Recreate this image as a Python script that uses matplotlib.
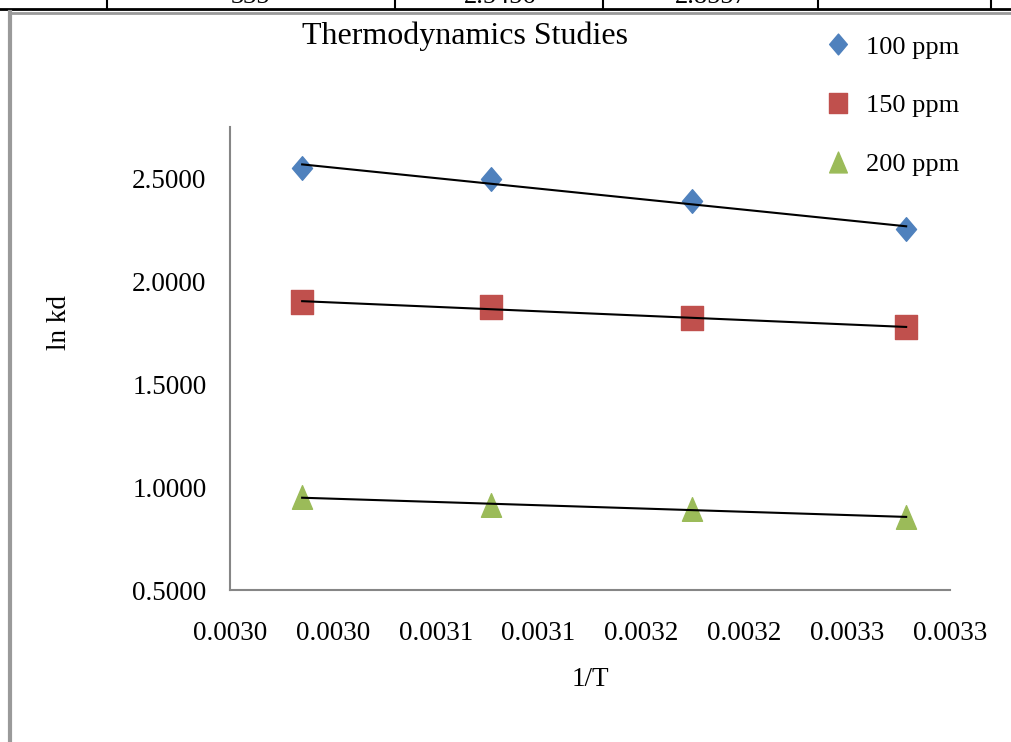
import numpy as np
import matplotlib
matplotlib.use("Agg")
import matplotlib.pyplot as plt
from matplotlib.lines import Line2D
from matplotlib.path import Path

plt.rcParams['font.family'] = ['Liberation Serif', 'DejaVu Serif']

# data
temps = [335, 325, 315, 305]
inv_t = [1.0 / t for t in temps]
series = ['100 ppm', '150 ppm', '200 ppm']
lnkd_100 = [2.549, 2.495, 2.388, 2.252]
lnkd_150 = [1.898, 1.874, 1.820, 1.777]
lnkd_200 = [0.951, 0.913, 0.893, 0.854]
colors = ['#4F81BD', '#C0504D', '#9BBB59']

# table row cut off at the top of the page
table_cells = ['335', '2.5456', '2.8557']
table_cell_x = [250, 500, 711]
table_lines_x = [107, 395, 603, 818, 991]

W, H = 1011, 742
fig = plt.figure(figsize=(W / 100, H / 100), dpi=100)

def fx(px):
    return px / W

def fy(py):
    return 1 - py / H

# markers slightly taller than wide (stretched excel picture)
diamond = Path([(0, -1), (0.85, 0), (0, 1), (-0.85, 0), (0, -1)], closed=True)
square = Path([(-0.9, -1), (0.9, -1), (0.9, 1), (-0.9, 1), (-0.9, -1)], closed=True)
triangle = Path([(-0.85, -1), (0.85, -1), (0, 1), (-0.85, -1)], closed=True)
markers = [diamond, square, triangle]

ax = fig.add_axes([fx(230), fy(590), fx(950) - fx(230), fy(127) - fy(590)])

all_y = [lnkd_100, lnkd_150, lnkd_200]
for yv, c, m, lab in zip(all_y, colors, markers, series):
    ax.plot(inv_t, yv, linestyle='none', marker=m, ms=17, color=c, label=lab, zorder=3)
    k, b = np.polyfit(inv_t, yv, 1)
    xs = np.array([min(inv_t), max(inv_t)])
    ax.plot(xs, k * xs + b, color='black', lw=1.5, zorder=4)

ax.set_xlim(0.00295, 0.0033)
ax.set_ylim(0.5, 2.75)
ax.set_xticks(np.arange(8) * 0.00005 + 0.00295)
ax.set_xticklabels(['0.0030', '0.0030', '0.0031', '0.0031', '0.0032', '0.0032', '0.0033', '0.0033'])
ax.set_yticks([0.5, 1.0, 1.5, 2.0, 2.5])
ax.set_yticklabels(['%.4f' % v for v in [0.5, 1.0, 1.5, 2.0, 2.5]])
ax.tick_params(length=0, labelsize=19.5)
ax.tick_params(axis='y', pad=17)
ax.tick_params(axis='x', pad=22)
for s in ['top', 'right']:
    ax.spines[s].set_visible(False)
for s in ['left', 'bottom']:
    ax.spines[s].set_color('#868686')
    ax.spines[s].set_linewidth(1.5)

fig.text(fx(465), fy(36), 'Thermodynamics Studies', fontsize=23, ha='center', va='center')
fig.text(fx(60), fy(322), 'ln kd', fontsize=19.5, rotation=90, ha='center', va='center')
fig.text(fx(590), fy(680), '1/T', fontsize=19.5, ha='center', va='center')

handles = [Line2D([], [], linestyle='none', marker=m, ms=15, color=c) for m, c in zip(markers, colors)]
fig.legend(handles, series, loc='upper left', bbox_to_anchor=(fx(812), fy(22)),
           frameon=False, fontsize=19, labelspacing=1.33, handletextpad=0.55,
           handlelength=1.0, borderpad=0)

# page decoration: table border and gray frame
fig.add_artist(Line2D([0, 1], [fy(9), fy(9)], color='black', lw=2))
for x in table_lines_x:
    fig.add_artist(Line2D([fx(x), fx(x)], [fy(9), 1], color='black', lw=1.5))
for t, x in zip(table_cells, table_cell_x):
    fig.text(fx(x), fy(3), t, fontsize=19, ha='center', va='baseline')
fig.add_artist(Line2D([fx(9.5), 1], [fy(13), fy(13)], color='#9a9a9a', lw=2))
fig.add_artist(Line2D([fx(9.5), fx(9.5)], [fy(12), 0], color='#9a9a9a', lw=3))

fig.savefig('out.png', dpi=100)
